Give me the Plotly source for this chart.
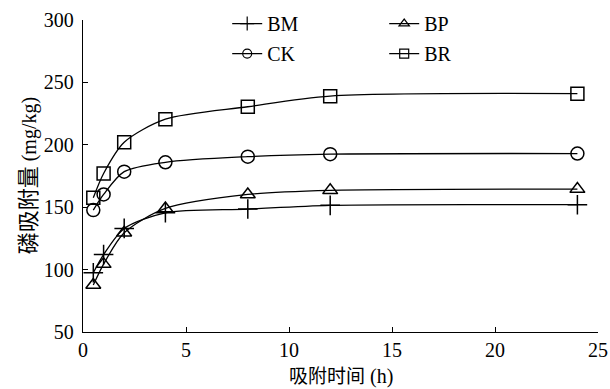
import plotly.graph_objects as go

time_h = [0.5, 1, 2, 4, 8, 12, 24]
bm = [97.5, 112, 133, 145.5, 148.5, 151.5, 152]
bp = [87.6, 104.4, 129.5, 149, 160.2, 163.5, 164.5]
ck = [147.7, 160.2, 178.5, 186, 190.5, 192.5, 193]
br = [157.5, 177, 202, 220.5, 230.5, 239, 241]

series_names = ["BM", "BP", "CK", "BR"]
series_vals = [bm, bp, ck, br]
symbols = ["cross-thin-open", "triangle-up-open", "circle-open", "square-open"]
sizes = [14, 13, 13, 13]
legend_sizes = [10, 9, 9, 9]
legends = ["legend", "legend", "legend2", "legend2"]

x_ticks = [0, 5, 10, 15, 20, 25]
y_ticks = [50, 100, 150, 200, 250, 300]

x_title_cjk, x_title_unit = "吸附时间", "(h)"
y_title_cjk, y_title_unit = "磷吸附量", "(mg/kg)"

SERIF = "Liberation Serif, Times New Roman, Noto Sans CJK SC, serif"
CJK = "Noto Sans CJK SC"

fig = go.Figure()
for name, vals, sym, sz, lsz, lg in zip(series_names, series_vals, symbols, sizes, legend_sizes, legends):
    fig.add_trace(go.Scatter(
        x=time_h, y=vals, name=name, mode="lines+markers", showlegend=False,
        line=dict(color="black", width=1.3, shape="spline", smoothing=0.8),
        marker=dict(symbol=sym, size=sz, color="black",
                    line=dict(color="black", width=1.5)),
    ))
    # legend entry with smaller marker (as in the reference key)
    fig.add_trace(go.Scatter(
        x=[None], y=[None], name=name, mode="lines+markers", showlegend=True,
        line=dict(color="black", width=1.2),
        marker=dict(symbol=sym, size=lsz, color="black",
                    line=dict(color="black", width=1.2)),
        legend=lg,
    ))

legend_common = dict(orientation="h", xanchor="left", yanchor="top",
                     entrywidth=112, entrywidthmode="pixels",
                     bgcolor="rgba(0,0,0,0)", font=dict(family=SERIF, size=20))


def mixed(cjk, unit, cjk_size):
    return (f"<span style='font-family:{CJK};font-size:{cjk_size}px'>{cjk}</span> {unit}")


fig.update_layout(
    width=610, height=389,
    margin=dict(l=83, r=12, t=20, b=57, autoexpand=False),
    paper_bgcolor="white", plot_bgcolor="white",
    font=dict(family=SERIF, size=20, color="black"),
    showlegend=True,
    legend=dict(x=0.28, y=1.051, **legend_common),
    legend2=dict(x=0.28, y=0.955, **legend_common),
    xaxis=dict(
        range=[0, 25], tickvals=x_ticks, ticktext=[str(v) for v in x_ticks],
        ticks="inside", ticklen=5, tickwidth=1.3, tickcolor="black",
        showline=True, linecolor="black", linewidth=1.3, showgrid=False,
        zeroline=False, tickfont=dict(family=SERIF, size=20), automargin=False,
    ),
    yaxis=dict(
        range=[50, 300], tickvals=y_ticks, ticktext=[str(v) for v in y_ticks],
        ticks="inside", ticklen=5, tickwidth=1.3, tickcolor="black",
        showline=True, linecolor="black", linewidth=1.3, showgrid=False,
        zeroline=False, tickfont=dict(family=SERIF, size=20), automargin=False,
        ticklabelstandoff=4,
    ),
    annotations=[
        dict(text=mixed(x_title_cjk, x_title_unit, 19), xref="paper", yref="paper",
             x=0.5, y=0.0, yshift=-42, xanchor="center", yanchor="middle", showarrow=False,
             font=dict(family=SERIF, size=20, color="black")),
        dict(text=mixed(y_title_cjk, y_title_unit, 22), xref="paper", yref="paper",
             x=-0.110, y=0.5, xanchor="center", yanchor="middle", showarrow=False,
             textangle=-90, font=dict(family=SERIF, size=20, color="black")),
    ],
)

fig.write_html(
    "out.html",
    config={"displayModeBar": False},
    post_script="document.body.style.margin='0';document.body.style.overflow='hidden';",
)
